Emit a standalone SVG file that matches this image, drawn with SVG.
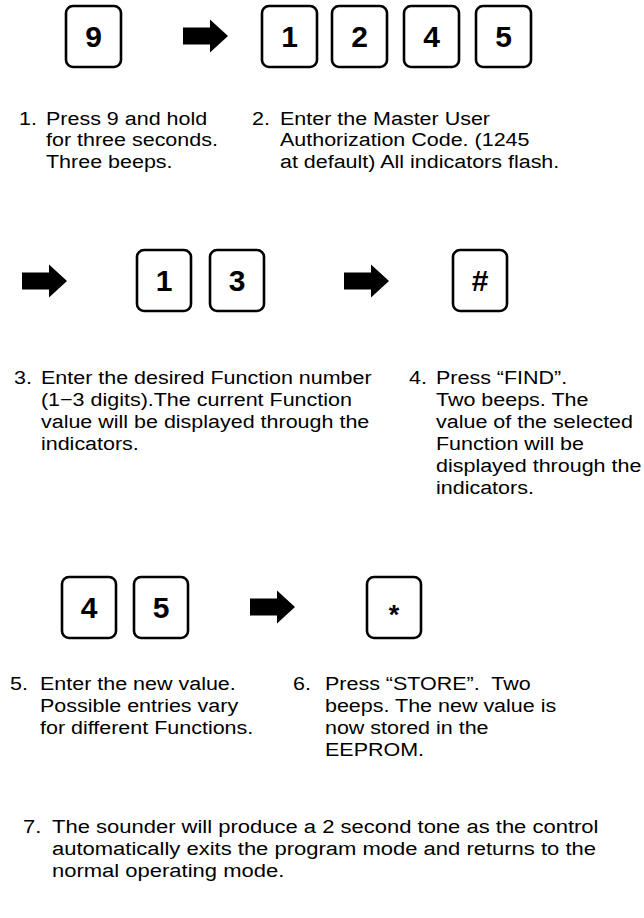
<svg xmlns="http://www.w3.org/2000/svg" width="644" height="918" viewBox="0 0 644 918">
<style>
.key{fill:#fff;stroke:#000;stroke-width:2.6}
.kt{font-family:"Liberation Sans",Arial,sans-serif;font-weight:bold;font-size:30px;text-anchor:middle;fill:#000}
.t{font-family:"Liberation Sans",Arial,sans-serif;font-size:19px;fill:#000}
.arr{fill:#000}
</style>
<defs>
<path id="arrow" d="M0,-8.5 H27 V-16.5 L45,0 L27,16.5 V8.5 H0 Z"/>
</defs>
<rect width="644" height="918" fill="#fff"/>
<g id="connectors">
<use href="#arrow" class="arr" x="183" y="36"/>
<use href="#arrow" class="arr" x="22" y="281"/>
<use href="#arrow" class="arr" x="344" y="281"/>
<use href="#arrow" class="arr" x="250" y="607"/>
</g>
<g id="key9"><rect class="key" x="66" y="6" width="55" height="61" rx="7"/><text class="kt" x="93.5" y="47">9</text></g>
<g id="key1a"><rect class="key" x="262" y="6" width="55" height="61" rx="7"/><text class="kt" x="289.5" y="47">1</text></g>
<g id="key2a"><rect class="key" x="332" y="6" width="55" height="61" rx="7"/><text class="kt" x="359.5" y="47">2</text></g>
<g id="key4a"><rect class="key" x="404" y="6" width="55" height="61" rx="7"/><text class="kt" x="431.5" y="47">4</text></g>
<g id="key5a"><rect class="key" x="476" y="6" width="55" height="61" rx="7"/><text class="kt" x="503.5" y="47">5</text></g>
<g id="step1" transform="scale(1.1316 1)"><text class="t" x="16.8" y="125">1.</text><text class="t" x="40.65" y="125">Press 9 and hold</text><text class="t" x="40.65" y="146.5">for three seconds.</text><text class="t" x="40.65" y="168">Three beeps.</text></g>
<g id="step2" transform="scale(1.1316 1)"><text class="t" x="222.7" y="125">2.</text><text class="t" x="247.4" y="125">Enter the Master User</text><text class="t" x="247.4" y="146.5">Authorization Code. (1245</text><text class="t" x="247.4" y="168">at default) All indicators flash.</text></g>
<g id="key1b"><rect class="key" x="137" y="250" width="54" height="61" rx="7"/><text class="kt" x="164" y="291">1</text></g>
<g id="key3"><rect class="key" x="210" y="250" width="54" height="61" rx="7"/><text class="kt" x="237" y="291">3</text></g>
<g id="keyHash"><rect class="key" x="453" y="250" width="54" height="61" rx="7"/><text class="kt" x="480" y="291">#</text></g>
<g id="step3" transform="scale(1.1316 1)"><text class="t" x="12.4" y="384">3.</text><text class="t" x="36.2" y="384">Enter the desired Function number</text><text class="t" x="36.2" y="406">(1−3 digits).The current Function</text><text class="t" x="36.2" y="428">value will be displayed through the</text><text class="t" x="36.2" y="450">indicators.</text></g>
<g id="step4" transform="scale(1.1316 1)"><text class="t" x="361.4" y="384">4.</text><text class="t" x="385.3" y="384">Press “FIND”.</text><text class="t" x="385.3" y="406">Two beeps. The</text><text class="t" x="385.3" y="428">value of the selected</text><text class="t" x="385.3" y="450">Function will be</text><text class="t" x="385.3" y="472">displayed through the</text><text class="t" x="385.3" y="494">indicators.</text></g>
<g id="key4b"><rect class="key" x="62" y="577" width="54" height="61" rx="7"/><text class="kt" x="89" y="618">4</text></g>
<g id="key5b"><rect class="key" x="134" y="577" width="54" height="61" rx="7"/><text class="kt" x="161" y="618">5</text></g>
<g id="keyStar"><rect class="key" x="367" y="577" width="54" height="61" rx="7"/><text class="kt" x="394" y="624" style="font-size:27px">*</text></g>
<g id="step5" transform="scale(1.1316 1)"><text class="t" x="8.84" y="690">5.</text><text class="t" x="35.35" y="690">Enter the new value.</text><text class="t" x="35.35" y="712">Possible entries vary</text><text class="t" x="35.35" y="734">for different Functions.</text></g>
<g id="step6" transform="scale(1.1316 1)"><text class="t" x="258.9" y="690">6.</text><text class="t" x="287.2" y="690">Press “STORE”.&#160; Two</text><text class="t" x="287.2" y="712">beeps. The new value is</text><text class="t" x="287.2" y="734">now stored in the</text><text class="t" x="287.2" y="756">EEPROM.</text></g>
<g id="step7" transform="scale(1.158 1)"><text class="t" x="19.86" y="833">7.</text><text class="t" x="44.9" y="833">The sounder will produce a 2 second tone as the control</text><text class="t" x="44.9" y="855">automatically exits the program mode and returns to the</text><text class="t" x="44.9" y="877">normal operating mode.</text></g>
</svg>
